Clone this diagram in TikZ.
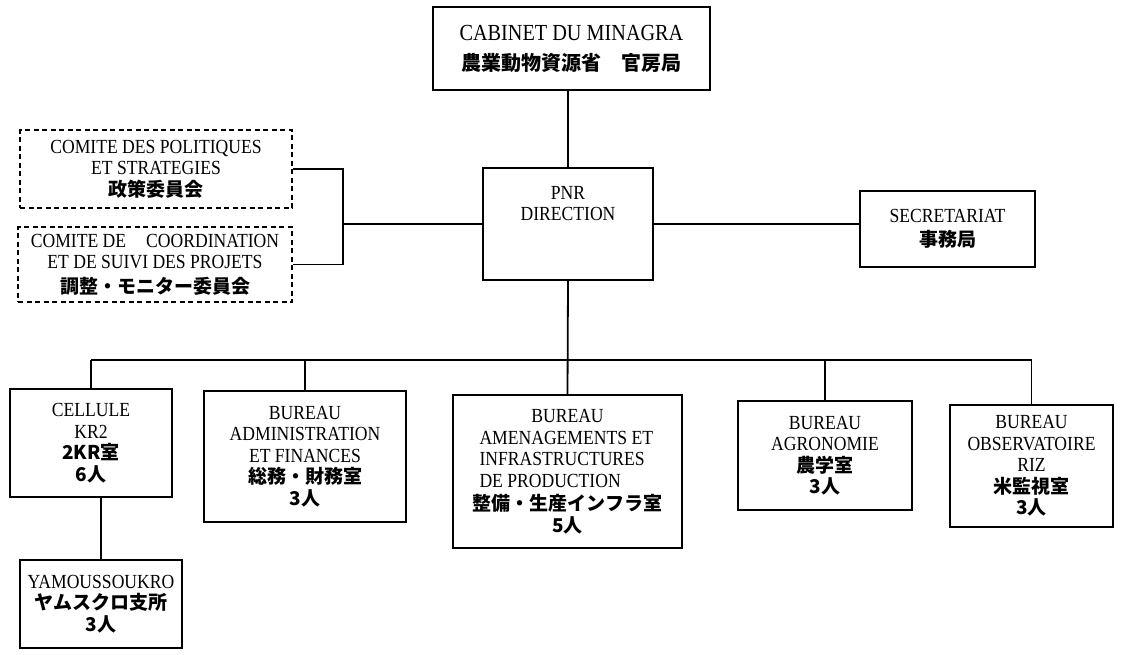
\documentclass[tikz,border=0pt]{standalone}
\usepackage{fontspec}
\setmainfont{Liberation Serif}[FakeStretch=0.88]
\newfontfamily\jpfont{Noto Sans CJK JP}
\newcommand{\jp}{\jpfont\bfseries\fontsize{19}{22}\selectfont}

\begin{document}
\begin{tikzpicture}[
  x = 1pt, y = -1pt,
  box/.style = {rectangle, draw, line width=1.8pt, align=center,
                inner sep=2pt, font=\fontsize{20}{21.5}\selectfont},
  comite/.style = {box, dash pattern=on 5pt off 3.5pt},
  link/.style = {line width=1.8pt}
]
\useasboundingbox[fill=white] (0,0) rectangle (1126,654);

% top
\node[box, minimum width=277pt, minimum height=83pt,
      font=\fontsize{23}{30}\selectfont] (cab) at (571.5,48.5)
  {CABINET DU MINAGRA\\{\jp\fontsize{20}{24}\selectfont 農業動物資源省　官房局}};
\node[box, minimum width=170pt, minimum height=112pt] (pnr) at (568,224)
  {PNR\\DIRECTION\\[20pt]\mbox{}};

% comites
\node[comite, minimum width=272pt, minimum height=78pt] (pol) at (156,169)
  {COMITE DES POLITIQUES\\ET STRATEGIES\\{\jp 政策委員会}};
\node[comite, minimum width=274pt, minimum height=75pt] (sui) at (155,264.5)
  {COMITE DE\quad COORDINATION\\ET DE SUIVI DES PROJETS\\[3pt]{\jp 調整・モニター委員会}};

% secretariat
\node[box, minimum width=175pt, minimum height=76pt] (sec) at (947.5,229)
  {SECRETARIAT\\[2pt]{\jp 事務局}};

% bureaux
\node[box, minimum width=162pt, minimum height=108pt] (cel) at (91,443)
  {CELLULE\\KR2\\{\jp 2KR室}\\{\jp 6人}};
\node[box, minimum width=202pt, minimum height=131pt] (adm) at (305,456.5)
  {BUREAU\\ADMINISTRATION\\ET FINANCES\\{\jp 総務・財務室}\\{\jp 3人}};
\node[box, minimum width=229pt, minimum height=153pt] (ame) at (567.5,471.5)
  {BUREAU\\\makebox[176pt][l]{AMENAGEMENTS ET}\\\makebox[176pt][l]{INFRASTRUCTURES}\\
   \makebox[176pt][l]{DE PRODUCTION}\\[2pt]{\jp 整備・生産インフラ室}\\{\jp 5人}};
\node[box, minimum width=174pt, minimum height=109pt] (agr) at (825,455.5)
  {BUREAU\\AGRONOMIE\\{\jp 農学室}\\{\jp 3人}};
\node[box, minimum width=163pt, minimum height=122pt] (obs) at (1031.5,466)
  {BUREAU\\OBSERVATOIRE\\RIZ\\{\jp 米監視室}\\{\jp 3人}};
\node[box, minimum width=162pt, minimum height=88pt] (yam) at (101,604)
  {YAMOUSSOUKRO\\{\jp ヤムスクロ支所}\\{\jp 3人}};

% links
\coordinate (brk) at (343,219);
\coordinate (bus) at (0,360);
\draw[link] (pnr.north |- cab.south) -- (pnr.north);
\draw[link] (pol.east) -| (brk |- sui.east) -- (sui.east);
\draw[link] (pnr.west) -- (pnr.west -| brk);
\draw[link] (pnr.east) -- (pnr.east -| sec.west);
\draw[link] (pnr.south) -- (ame.north);
\draw[link] (cel.north |- bus) -- (obs.north |- bus);
\foreach \b in {cel,adm,agr,obs}
  \draw[link] (\b.north) -- (\b.north |- bus);
\draw[link] (cel.south -| yam.north) -- (yam.north);
\end{tikzpicture}
\end{document}
